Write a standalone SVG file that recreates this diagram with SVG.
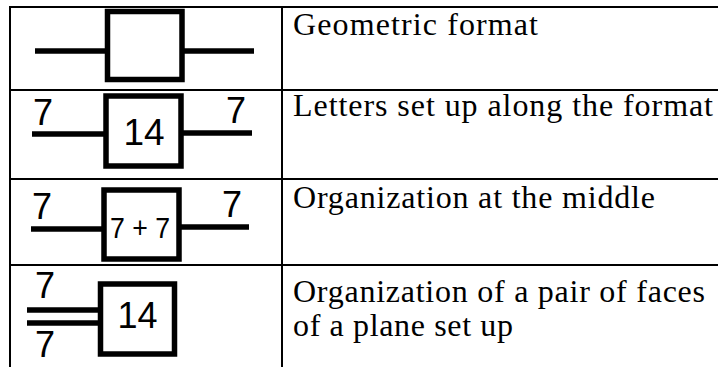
<svg xmlns="http://www.w3.org/2000/svg" width="718" height="367" viewBox="0 0 718 367">
<style>
.grid{stroke:#000;stroke-width:2;fill:none}
.box{fill:#fff;stroke:#000;stroke-width:5.5}
.ln{stroke:#000;stroke-width:5.5;fill:none}
.num{font-family:"Liberation Sans",Arial,sans-serif;fill:#000}
.lbl{font-family:"Liberation Serif","Times New Roman",serif;font-size:32px;fill:#000}
</style>
<rect width="718" height="367" fill="#fff"/>
<g id="grid" class="grid">
<line x1="9" y1="7" x2="718" y2="7"/>
<line x1="10" y1="6" x2="10" y2="367"/>
<line x1="282" y1="6" x2="282" y2="367"/>
<line x1="9" y1="90" x2="718" y2="90"/>
<line x1="9" y1="179" x2="718" y2="179"/>
<line x1="9" y1="265" x2="718" y2="265"/>
</g>
<g id="connectors">
<line class="ln" x1="35" y1="51" x2="108" y2="51"/>
<line class="ln" x1="181" y1="51" x2="254" y2="51"/>
<line class="ln" x1="32" y1="134" x2="106" y2="134"/>
<line class="ln" x1="181" y1="133" x2="252" y2="133"/>
<line class="ln" x1="31" y1="229" x2="104" y2="229"/>
<line class="ln" x1="179" y1="227" x2="249" y2="227"/>
<line class="ln" x1="27" y1="310" x2="100" y2="310"/>
<line class="ln" x1="27" y1="323" x2="100" y2="323"/>
</g>
<g id="row1">
<rect class="box" x="107.5" y="11.5" width="74.5" height="68"/>
<text class="lbl" x="293" y="35" textLength="245" lengthAdjust="spacing">Geometric format</text>
</g>
<g id="row2">
<rect class="box" x="106" y="96" width="75" height="70"/>
<text class="num" x="144" y="145" font-size="37" text-anchor="middle">14</text>
<text class="num" x="33" y="125" font-size="36">7</text>
<text class="num" x="226" y="123" font-size="36">7</text>
<text class="lbl" x="293" y="116" textLength="420" lengthAdjust="spacing">Letters set up along the format</text>
</g>
<g id="row3">
<rect class="box" x="104" y="190" width="75" height="69"/>
<text class="num" x="140" y="238" font-size="29" text-anchor="middle" textLength="60" lengthAdjust="spacingAndGlyphs">7 + 7</text>
<text class="num" x="32" y="219" font-size="36">7</text>
<text class="num" x="222" y="217" font-size="36">7</text>
<text class="lbl" x="293" y="208" textLength="362" lengthAdjust="spacing">Organization at the middle</text>
</g>
<g id="row4">
<rect class="box" x="100.5" y="284" width="74" height="70"/>
<text class="num" x="137.5" y="328" font-size="36" text-anchor="middle">14</text>
<text class="num" x="35" y="298" font-size="36">7</text>
<text class="num" x="35" y="357" font-size="36">7</text>
<text class="lbl" x="293" y="302" textLength="412" lengthAdjust="spacing">Organization of a pair of faces</text>
<text class="lbl" x="293" y="336" textLength="220" lengthAdjust="spacing">of a plane set up</text>
</g>
</svg>
